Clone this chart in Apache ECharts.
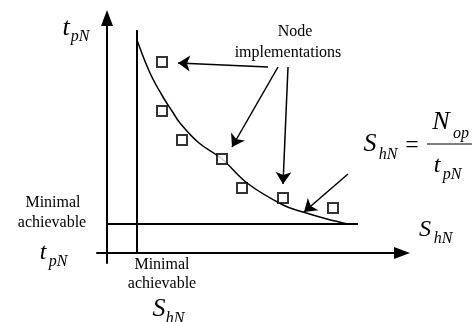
<!DOCTYPE html>
<html>
<head>
<meta charset="utf-8">
<script src="https://cdn.jsdelivr.net/npm/echarts@6/dist/echarts.min.js"></script>
<style>
  html, body { margin: 0; padding: 0; background: #fff; }
  #chart { width: 474px; height: 322px; }
</style>
</head>
<body>
<div id="chart"></div>
<script>
// trade-off curve S_hN = N_op / t_pN (arbitrary units)
const curveS = [3.0, 4.3, 5.6, 6.5, 7.3, 9.2, 11.5, 14.0, 17.6, 19.6, 22.0, 24.1];
const curveT = [21.3, 18.0, 15.6, 14.2, 13.0, 11.0, 9.4, 7.0, 4.8, 4.1, 3.4, 2.9];

// node implementations (squares)
const nodeS = [5.5, 5.5, 7.5, 11.5, 13.5, 17.6, 22.6];
const nodeT = [19.1, 14.2, 11.3, 9.4, 6.5, 5.5, 4.5];

// minimal achievable limits
const minS = 3.0;
const minT = 2.9;
const minSTop = 22.3;
const minTRight = 25.1;

// arrows from the "Node implementations" label: [fromS, fromT, toS, toT]
const arrows = [
  [16.1, 18.6, 7.1, 19.0],
  [17.1, 18.6, 12.5, 10.6],
  [18.1, 18.6, 17.6, 6.9],
  [24.1, 7.9, 19.7, 4.1]
];

const serif = '"Liberation Serif", "Times New Roman", serif';

function txt(x, y, text, size, italic) {
  return {
    type: 'text',
    x: x, y: y,
    style: {
      text: text,
      font: (italic ? 'italic ' : '') + size + 'px ' + serif,
      fill: '#000',
      align: 'center',
      verticalAlign: 'middle'
    }
  };
}

const chart = echarts.init(document.getElementById('chart'));

const axisCommon = {
  type: 'value',
  axisLine: {
    onZero: true,
    symbol: ['none', 'triangle'],
    symbolSize: [12, 16],
    lineStyle: { color: '#000', width: 2 }
  },
  axisTick: { show: false },
  axisLabel: { show: false },
  splitLine: { show: false }
};

chart.setOption({
  animation: false,
  backgroundColor: '#fff',
  grid: { left: 97, top: 18, width: 305, height: 245 },
  xAxis: Object.assign({ min: -1, max: 29.5 }, axisCommon),
  yAxis: Object.assign({ min: -1, max: 23.5 }, axisCommon),
  series: [
    {
      type: 'line',
      data: [[minS, 0], [minS, minSTop]],
      showSymbol: false,
      lineStyle: { color: '#000', width: 2 }
    },
    {
      type: 'line',
      data: [[0, minT], [minTRight, minT]],
      showSymbol: false,
      lineStyle: { color: '#000', width: 2 }
    },
    {
      type: 'line',
      data: curveS.map((s, i) => [s, curveT[i]]),
      smooth: 0.4,
      showSymbol: false,
      lineStyle: { color: '#000', width: 1.5 }
    },
    {
      type: 'scatter',
      data: nodeS.map((s, i) => [s, nodeT[i]]),
      symbol: 'rect',
      symbolSize: 10,
      itemStyle: { color: '#fff', borderColor: '#000', borderWidth: 2 },
      z: 5
    },
    {
      type: 'lines',
      coordinateSystem: 'cartesian2d',
      symbol: ['none', 'arrow'],
      symbolSize: 12,
      lineStyle: { color: '#000', width: 1.5, opacity: 1 },
      data: arrows.map(a => ({ coords: [[a[0], a[1]], [a[2], a[3]]] })),
      z: 6
    }
  ],
  graphic: [
    // y axis title
    txt(66, 28, 't', 26, true),
    txt(80, 37, 'pN', 16, true),
    // Node implementations
    txt(295, 32, 'Node', 16, false),
    txt(288, 53, 'implementations', 16, false),
    // formula
    txt(370, 144, 'S', 26, true),
    txt(388, 155, 'hN', 16, true),
    txt(412, 146, '=', 24, false),
    txt(441, 122, 'N', 26, true),
    txt(461, 134, 'op', 16, true),
    { type: 'line', shape: { x1: 427, y1: 144, x2: 472, y2: 144 }, style: { stroke: '#000', lineWidth: 1 } },
    txt(437, 166, 't', 24, true),
    txt(452, 175, 'pN', 16, true),
    // x axis title
    txt(425, 230, 'S', 24, true),
    txt(443, 239, 'hN', 16, true),
    // minimal achievable t_pN
    txt(53, 203, 'Minimal', 16, false),
    txt(52, 223, 'achievable', 16, false),
    txt(43, 253, 't', 24, true),
    txt(58, 262, 'pN', 16, true),
    // minimal achievable S_hN
    txt(162, 265, 'Minimal', 16, false),
    txt(162, 284, 'achievable', 16, false),
    txt(159, 309, 'S', 26, true),
    txt(175, 319, 'hN', 16, true)
  ]
});
</script>
</body>
</html>
